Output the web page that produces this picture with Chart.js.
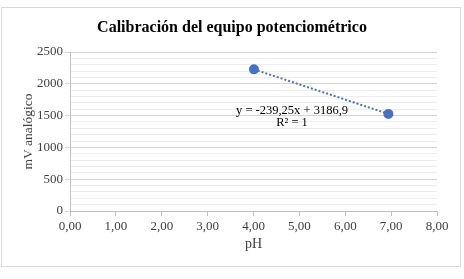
<!DOCTYPE html>
<html>
<head>
<meta charset="utf-8">
<script src="https://cdn.jsdelivr.net/npm/chart.js@4/dist/chart.umd.min.js"></script>
<style>
  html, body { margin: 0; padding: 0; background: #fff; }
  #wrap { position: relative; width: 464px; height: 279px; }
</style>
</head>
<body>
<div id="wrap"><canvas id="calib"></canvas></div>
<script>
// data
const phValues = [4.01, 6.94];
const mvValues = [2227, 1527];
const yTicks = [0, 500, 1000, 1500, 2000, 2500];
const xTicks = [0, 1, 2, 3, 4, 5, 6, 7, 8];
const equationLines = ['y = -239,25x + 3186,9', 'R² = 1'];

const blue = '#4472C4';
const serif = "'Liberation Serif', 'Times New Roman', serif";

// light frame round the whole chart, like the Excel chart border
const framePlugin = {
    id: 'frame',
    beforeDraw(chart) {
        const ctx = chart.ctx;
        ctx.save();
        ctx.fillStyle = '#fff';
        ctx.fillRect(0, 0, chart.width, chart.height);
        ctx.strokeStyle = '#d9d9d9';
        ctx.lineWidth = 1;
        ctx.strokeRect(1.5, 7.5, 459, 259);
        ctx.restore();
    }
};

// trendline equation label
const equationPlugin = {
    id: 'equation',
    afterDatasetsDraw(chart) {
        const ctx = chart.ctx;
        const x = chart.scales.x.getPixelForValue(4.84);
        const y = chart.scales.y.getPixelForValue(1572);
        ctx.save();
        ctx.font = '12.5px ' + serif;
        ctx.fillStyle = '#000';
        ctx.textAlign = 'center';
        ctx.textBaseline = 'middle';
        equationLines.forEach((line, i) => ctx.fillText(line, x, y + i * 12));
        ctx.restore();
    }
};

new Chart(document.getElementById('calib'), {
    type: 'scatter',
    data: {
        datasets: [{
            data: phValues.map((v, i) => ({ x: v, y: mvValues[i] })),
            showLine: true,
            borderColor: blue,
            borderWidth: 2,
            borderDash: [2, 2],
            backgroundColor: blue,
            pointBackgroundColor: blue,
            pointBorderColor: blue,
            pointRadius: 4,
            pointHoverRadius: 4
        }]
    },
    options: {
        responsive: true,
        maintainAspectRatio: false,
        animation: false,
        layout: { padding: { left: 13.5, right: 13.5, top: 0, bottom: 0 } },
        plugins: {
            legend: { display: false },
            tooltip: { enabled: false },
            title: {
                display: true,
                text: 'Calibración del equipo potenciométrico',
                color: '#000',
                font: { family: serif, size: 16, weight: 'bold' },
                padding: { top: 18, bottom: 14.8 }
            }
        },
        scales: {
            x: {
                type: 'linear',
                min: 0,
                max: 8,
                afterBuildTicks: axis => { axis.ticks = xTicks.map(v => ({ value: v })); },
                afterFit: axis => { axis.height = 68; axis.paddingRight = 27; },
                border: { color: '#bfbfbf' },
                grid: {
                    drawOnChartArea: false,
                    drawTicks: true,
                    tickLength: 5,
                    tickColor: '#bfbfbf'
                },
                ticks: {
                    color: '#404040',
                    padding: 3,
                    maxRotation: 0,
                    font: { family: serif, size: 13 },
                    callback: v => v.toFixed(2).replace('.', ',')
                },
                title: {
                    display: true,
                    text: 'pH',
                    color: '#404040',
                    font: { family: serif, size: 14 },
                    padding: { top: 0, bottom: 26 }
                }
            },
            y: {
                min: 0,
                max: 2500,
                ticks: {
                    stepSize: 100,
                    autoSkip: false,
                    color: '#404040',
                    padding: 2,
                    font: { family: serif, size: 13 },
                    callback: v => (yTicks.includes(v) ? v : '')
                },
                afterFit: axis => { axis.width = 56.5; },
                border: { color: '#bfbfbf' },
                grid: {
                    color: c => (yTicks.includes(c.tick.value) ? '#d4d4d4' : '#ededed'),
                    tickColor: c => (yTicks.includes(c.tick.value) ? '#d4d4d4' : 'rgba(0,0,0,0)'),
                    tickLength: 5
                },
                title: {
                    display: true,
                    text: 'mV analógico',
                    color: '#404040',
                    font: { family: serif, size: 13.5 },
                    padding: { top: 6.4, bottom: 0 }
                }
            }
        }
    },
    plugins: [framePlugin, equationPlugin]
});
</script>
</body>
</html>
